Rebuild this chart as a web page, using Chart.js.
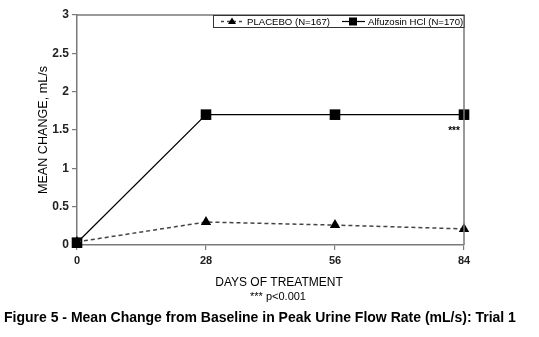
<!DOCTYPE html>
<html>
<head>
<meta charset="utf-8">
<script src="https://cdn.jsdelivr.net/npm/chart.js@4/dist/chart.umd.min.js"></script>
<style>
  html, body { margin: 0; padding: 0; background: #fff; }
  #wrap { width: 539px; height: 337px; position: relative; }
</style>
</head>
<body>
<div id="wrap"><canvas id="grafico"></canvas></div>
<script>
// dados
const dias = [0, 28, 56, 84];
const placebo = [0.04, 0.30, 0.26, 0.21];
const alfuzosina = [0.03, 1.70, 1.70, 1.70];
const marcasY = [0, 0.5, 1, 1.5, 2, 2.5, 3];
const nomePlacebo = 'PLACEBO (N=167)';
const nomeAlfu = 'Alfuzosin HCl (N=170)';

const cinza = '#7a7a7a';
const fonte = 'Arial, "Liberation Sans", Helvetica, sans-serif';

function pontos(ys) {
  return dias.map(function (d, i) { return { x: d, y: ys[i] }; });
}

// textos extras, caixa da legenda e moldura
const textos = {
  id: 'textos',
  afterDraw(chart) {
    const ctx = chart.ctx;
    const a = chart.chartArea;
    ctx.save();
    // moldura (topo e direita)
    ctx.strokeStyle = cinza;
    ctx.lineWidth = 1.5;
    ctx.beginPath();
    ctx.moveTo(a.left, a.top);
    ctx.lineTo(a.right, a.top);
    ctx.lineTo(a.right, a.bottom);
    ctx.stroke();

    // legenda
    ctx.fillStyle = '#fff';
    ctx.fillRect(213, a.top, a.right - 213, 12);
    ctx.strokeStyle = '#333';
    ctx.lineWidth = 1;
    ctx.strokeRect(213.5, a.top + 0.5, a.right - 213.5, 12);
    const ly = a.top + 6.5;
    ctx.strokeStyle = '#444';
    ctx.lineWidth = 1.3;
    ctx.setLineDash([3, 3]);
    ctx.beginPath(); ctx.moveTo(221, ly); ctx.lineTo(244, ly); ctx.stroke();
    ctx.setLineDash([]);
    ctx.fillStyle = '#000';
    ctx.beginPath();
    ctx.moveTo(232, ly - 4); ctx.lineTo(236, ly + 2.5); ctx.lineTo(228, ly + 2.5); ctx.closePath(); ctx.fill();
    ctx.strokeStyle = '#000';
    ctx.lineWidth = 1.2;
    ctx.beginPath(); ctx.moveTo(342, ly); ctx.lineTo(365, ly); ctx.stroke();
    ctx.fillRect(349, ly - 4, 8, 8);
    ctx.font = '9.6px ' + fonte;
    ctx.textBaseline = 'middle';
    ctx.textAlign = 'left';
    ctx.fillText(nomePlacebo, 247, ly + 0.5);
    ctx.fillText(nomeAlfu, 368, ly + 0.5);

    // asteriscos
    ctx.font = 'bold 10px ' + fonte;
    ctx.textAlign = 'center';
    ctx.fillText('***', 454, 131);

    // titulo do eixo y
    ctx.font = '12.6px ' + fonte;
    ctx.save();
    ctx.translate(44, (a.top + a.bottom) / 2);
    ctx.rotate(-Math.PI / 2);
    ctx.fillText('MEAN CHANGE, mL/s', 0, 0);
    ctx.restore();

    // eixo x e notas
    ctx.font = '12px ' + fonte;
    ctx.fillText('DAYS OF TREATMENT', 279, 283);
    ctx.font = '11px ' + fonte;
    ctx.fillText('*** p<0.001', 278, 297);
    ctx.font = 'bold 14px ' + fonte;
    ctx.textAlign = 'left';
    ctx.fillText('Figure 5 - Mean Change from Baseline in Peak Urine Flow Rate (mL/s): Trial 1', 4, 318);
    ctx.restore();
  }
};

const config = {
  type: 'line',
  data: {
    datasets: [
      {
        label: nomePlacebo,
        data: pontos(placebo),
        borderColor: '#444',
        borderWidth: 1.5,
        borderDash: [4, 3],
        pointStyle: 'triangle',
        pointRadius: 6,
        pointBackgroundColor: '#000',
        pointBorderColor: '#000',
        pointBorderWidth: 0,
        clip: false,
        order: 1
      },
      {
        label: nomeAlfu,
        data: pontos(alfuzosina),
        borderColor: '#000',
        borderWidth: 1.2,
        pointStyle: 'rect',
        pointRadius: 7.5,
        pointBackgroundColor: '#000',
        pointBorderColor: '#000',
        pointBorderWidth: 0,
        clip: false,
        order: 2
      }
    ]
  },
  options: {
    responsive: false,
    animation: false,
    layout: { padding: { left: 0, right: 75, top: 15, bottom: 0 } },
    plugins: {
      legend: { display: false },
      tooltip: { enabled: false }
    },
    scales: {
      x: {
        type: 'linear',
        min: 0,
        max: 84,
        afterFit(s) { s.height = 92; },
        afterBuildTicks(s) { s.ticks = dias.map(function (v) { return { value: v }; }); },
        grid: { drawOnChartArea: false, color: cinza, tickLength: 5, lineWidth: 1.2 },
        border: { color: cinza, width: 1.5 },
        ticks: { color: '#222', font: { family: fonte, size: 11, weight: 'bold' }, padding: 4, maxRotation: 0 }
      },
      y: {
        min: 0,
        max: 3,
        afterFit(s) { s.width = 77; },
        afterBuildTicks(s) { s.ticks = marcasY.map(function (v) { return { value: v }; }); },
        grid: { drawOnChartArea: false, color: cinza, tickLength: 5, lineWidth: 1.2 },
        border: { color: cinza, width: 1.5 },
        ticks: {
          color: '#222', font: { family: fonte, size: 12, weight: 'bold' }, padding: 3,
          callback: function (v) { return String(v); }
        }
      }
    }
  },
  plugins: [textos]
};

const cv = document.getElementById('grafico');
cv.width = 539;
cv.height = 337;
var meuGrafico = new Chart(cv, config);
</script>
</body>
</html>
